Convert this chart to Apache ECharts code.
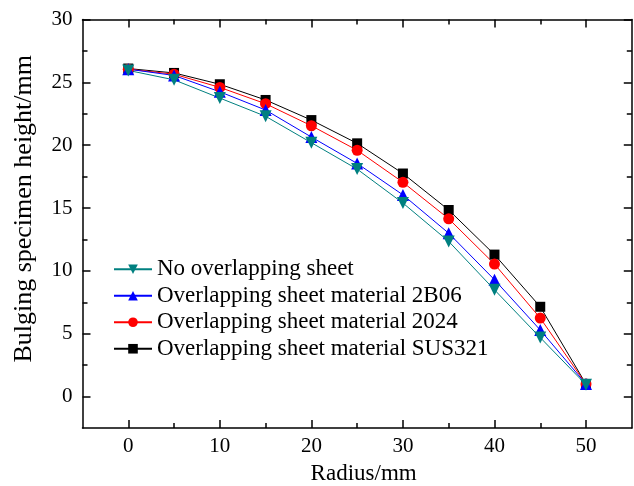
<!DOCTYPE html>
<html>
<head>
<meta charset="utf-8">
<script src="https://cdn.jsdelivr.net/npm/echarts@6/dist/echarts.min.js"></script>
<style>
  html, body { margin: 0; padding: 0; background: #fff; }
  #chart { width: 634px; height: 486px; }
</style>
</head>
<body>
<div id="chart"></div>
<script>
// Radial positions (mm) at which the bulged specimen height was measured
const radius = [0, 5, 10, 15, 20, 25, 30, 35, 40, 45, 50];

// Bulging specimen height (mm) for each overlapping-sheet condition
const noOverlap   = [25.95, 25.2, 23.75, 22.3, 20.2, 18.1, 15.4, 12.35, 8.5, 4.7, 0.95];
const sheet2B06   = [26.05, 25.55, 24.25, 22.8, 20.65, 18.55, 16.05, 13.0, 9.3, 5.3, 1.0];
const sheet2024   = [26.05, 25.65, 24.6, 23.3, 21.55, 19.6, 17.05, 14.15, 10.55, 6.25, 1.0];
const sheetSUS321 = [26.1, 25.75, 24.85, 23.6, 22.0, 20.15, 17.75, 14.85, 11.3, 7.15, 1.0];

// Axis ticks
const xMajor = [0, 10, 20, 30, 40, 50];
const xMinor = [5, 15, 25, 35, 45];
const yMajor = [0, 5, 10, 15, 20, 25, 30];
const yMinor = [2.5, 7.5, 12.5, 17.5, 22.5, 27.5];

const names = [
  'No overlapping sheet',
  'Overlapping sheet material 2B06',
  'Overlapping sheet material 2024',
  'Overlapping sheet material SUS321'
];

const FONT = '"Liberation Serif", "Times New Roman", serif';
const pair = (ys) => radius.map((x, i) => [x, ys[i]]);

function xAx(pos, ticks, len, labels, line, extra) {
  return Object.assign({
    type: 'value', position: pos, min: -5, max: 55,
    axisLine: { show: line, onZero: false, lineStyle: { color: '#000', width: 1.5 } },
    axisTick: { show: true, inside: true, length: len, customValues: ticks, lineStyle: { color: '#000', width: 1.5 } },
    axisLabel: { show: labels, customValues: ticks, color: '#000', fontFamily: FONT, fontSize: 21, margin: 8 },
    splitLine: { show: false }
  }, extra || {});
}
function yAx(pos, ticks, len, labels, line, extra) {
  return Object.assign({
    type: 'value', position: pos, min: -2.5, max: 30,
    axisLine: { show: line, onZero: false, lineStyle: { color: '#000', width: 1.5 } },
    axisTick: { show: true, inside: true, length: len, customValues: ticks, lineStyle: { color: '#000', width: 1.5 } },
    axisLabel: { show: labels, customValues: ticks, color: '#000', fontFamily: FONT, fontSize: 21, margin: 10 },
    splitLine: { show: false }
  }, extra || {});
}

function lineSeries(name, data, color, symbol, size, rotate) {
  return {
    name: name, type: 'line', data: pair(data),
    xAxisIndex: 0, yAxisIndex: 0,
    symbol: symbol, symbolSize: size, symbolRotate: rotate || 0,
    showAllSymbol: true,
    lineStyle: { color: color, width: 1 },
    itemStyle: { color: color },
    emphasis: { disabled: true }
  };
}

const chart = echarts.init(document.getElementById('chart'), null, { renderer: 'canvas' });
chart.setOption({
  animation: false,
  backgroundColor: '#fff',
  grid: { left: 82.5, right: 2.2, top: 19.5, bottom: 57.9, outerBoundsMode: 'none', containLabel: false },
  legend: {
    orient: 'vertical', left: 113, top: 257.5, padding: 0,
    data: names,
    itemWidth: 38, itemHeight: 12, itemGap: 3,
    textStyle: { fontFamily: FONT, fontSize: 23, color: '#000', lineHeight: 23.5 }
  },
  xAxis: [
    xAx('bottom', xMajor, 8, true, true, {
      name: 'Radius/mm', nameLocation: 'middle', nameGap: 34,
      nameTextStyle: { fontFamily: FONT, fontSize: 23, color: '#000', padding: [0, 0, 0, 13] }
    }),
    xAx('bottom', xMinor, 5, false, false),
    xAx('top', xMajor, 8, false, true),
    xAx('top', xMinor, 5, false, false)
  ],
  yAxis: [
    yAx('left', yMajor, 8, true, true, {
      name: 'Bulging specimen height/mm', nameLocation: 'middle', nameGap: 45,
      nameTextStyle: { fontFamily: FONT, fontSize: 26, color: '#000', padding: [0, 0, 0, 30] }
    }),
    yAx('left', yMinor, 5, false, false),
    yAx('right', yMajor, 8, false, true),
    yAx('right', yMinor, 5, false, false)
  ],
  series: [
    lineSeries(names[3], sheetSUS321, '#000000', 'rect', 10),
    lineSeries(names[2], sheet2024, '#ff0000', 'circle', 11),
    lineSeries(names[1], sheet2B06, '#0000ff', 'triangle', 12),
    lineSeries(names[0], noOverlap, '#008080', 'triangle', 12, 180)
  ]
});
</script>
</body>
</html>
